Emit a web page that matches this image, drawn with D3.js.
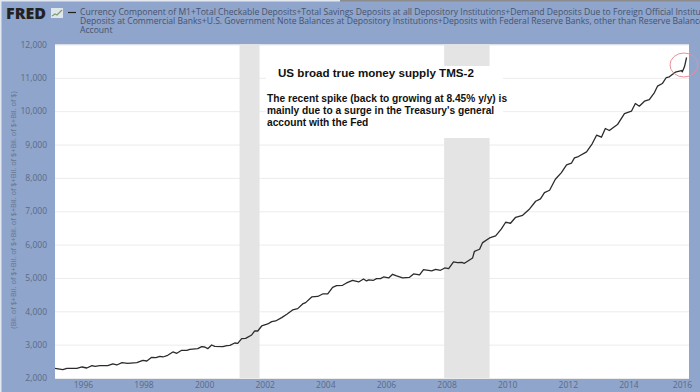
<!DOCTYPE html>
<html lang="en">
<head>
    <meta charset="UTF-8">
    <title>US broad true money supply TMS-2</title>
    <script src="https://d3js.org/d3.v7.min.js"></script>
    <style>
        html, body { margin: 0; padding: 0; background: #8fa5cb; overflow: hidden; }
        svg { display: block; }
        .tick text { font-family: "Open Sans", sans-serif; font-size: 8.5px; fill: #5b6a86; }
        .legend { font-family: "Open Sans", sans-serif; font-size: 8.6px; fill: #47536e; }
        .note { font-family: "Liberation Sans", Arial, sans-serif; font-weight: bold; fill: #111; }
    </style>
</head>
<body>
    <div id="chart"></div>
    <script>
        var w = 700;
        var h = 392;
        var margin = { top: 44.5, right: 11, bottom: 14, left: 55 };

        var years = [1995.08,1995.34,1995.47,1995.80,1995.97,1996.13,1996.30,1996.40,1996.56,1996.82,1996.99,
            1997.12,1997.29,1997.48,1997.78,1997.98,1998.11,1998.27,1998.41,1998.54,1998.64,1998.80,1998.97,
            1999.10,1999.26,1999.43,1999.53,1999.79,1999.92,2000.02,2000.12,2000.25,2000.35,2000.62,2000.75,2000.85,
            2001.01,2001.11,2001.24,2001.37,2001.57,2001.67,2001.77,2001.90,2002.10,2002.23,2002.36,2002.56,2002.73,2002.92,
            2003.09,2003.25,2003.35,2003.55,2003.75,2003.91,2004.08,2004.24,2004.37,2004.57,2004.70,2004.90,
            2005.10,2005.26,2005.36,2005.43,2005.59,2005.69,2005.82,2005.92,2006.09,2006.22,2006.35,2006.55,2006.78,2006.91,
            2007.11,2007.24,2007.51,2007.64,2007.80,2007.94,2008.07,2008.23,2008.36,2008.50,2008.59,2008.86,2008.92,
            2009.09,2009.19,2009.42,2009.62,2009.81,2009.95,2010.11,2010.28,2010.51,2010.74,2010.94,
            2011.10,2011.23,2011.40,2011.59,2011.79,2011.96,2012.12,2012.22,2012.35,2012.62,2012.81,2012.95,
            2013.11,2013.24,2013.37,2013.64,2013.87,2014.10,2014.23,2014.36,2014.53,2014.69,2014.86,2014.96,
            2015.12,2015.25,2015.35,2015.55,2015.75,2015.78,2015.85,2015.92];

        var supply = [2290,2250,2290,2290,2330,2300,2370,2350,2370,2370,2420,
            2390,2460,2440,2460,2530,2510,2620,2610,2650,2630,2680,2780,
            2740,2830,2830,2860,2880,2940,2930,2880,2990,2950,2940,2970,2980,
            3050,3040,3180,3190,3290,3410,3410,3560,3620,3690,3710,3810,3910,4040,
            4080,4220,4260,4430,4445,4520,4520,4720,4770,4780,4850,4930,
            4880,4970,4910,4940,4930,4980,4980,5030,5000,5110,5060,5000,5020,5120,
            5090,5250,5210,5260,5230,5300,5280,5480,5460,5470,5440,5600,5800,
            5860,6060,6200,6260,6470,6670,6640,6820,6880,7070,7300,
            7370,7560,7630,7960,8160,8390,8440,8600,8640,8780,9030,9280,
            9220,9480,9420,9600,9930,10000,10230,10150,10300,10350,10560,10750,
            10830,11010,11030,11170,11220,11180,11330,11610];

        var recessions = [[2001.17, 2001.83], [2007.92, 2009.42]];
        var yTicks = [2000,3000,4000,5000,6000,7000,8000,9000,10000,11000,12000];
        var xTicks = [1996,1998,2000,2002,2004,2006,2008,2010,2012,2014,2016];

        var legendLines = [
            "Currency Component of M1+Total Checkable Deposits+Total Savings Deposits at all Depository Institutions+Demand Deposits Due to Foreign Official Institutions+U.S. Government Demand",
            "Deposits at Commercial Banks+U.S. Government Note Balances at Depository Institutions+Deposits with Federal Reserve Banks, other than Reserve Balances: U.S. Treasury, General",
            "Account"
        ];
        var yLabel = "(Bil. of $+Bil. of $+Bil. of $+Bil. of $+Bil. of $+Bil. of $+Bil. of $+Bil. of $)";
        var noteTitle = "US broad true money supply TMS-2";
        var noteLines = [
            "The recent spike (back to growing at 8.45% y/y) is",
            "mainly due to a surge in the Treasury's general",
            "account with the Fed"
        ];

        var iw = w - margin.left - margin.right;
        var ih = h - margin.top - margin.bottom;

        var svg = d3.select("#chart").append("svg")
            .attr("width", w)
            .attr("height", h);

        // thin light edge of the screenshot
        svg.append("rect").attr("x", 0).attr("y", 0).attr("width", 1.5).attr("height", h).attr("fill", "#e4e8f1");
        svg.append("rect").attr("x", 0).attr("y", 0).attr("width", 340).attr("height", 1.5).attr("fill", "#e4e8f1");
        svg.append("rect").attr("x", 340).attr("y", 0).attr("width", 360).attr("height", 1.5).attr("fill", "#8d8d8d");

        var g = svg.append("g")
            .attr("transform", `translate(${margin.left},${margin.top})`);

        var xScale = d3.scaleLinear().domain([1995.08, 2016]).range([0, iw]);
        var yScale = d3.scaleLinear().domain([2000, 12000]).range([ih, 0]);

        g.append("rect")
            .attr("width", iw)
            .attr("height", ih)
            .attr("fill", "#fff");

        // grid and labels come from the axes
        var yAxis = g.append("g")
            .call(d3.axisLeft(yScale).tickValues(yTicks).tickFormat(d3.format(",")).tickSize(-iw).tickPadding(8));
        yAxis.select(".domain").remove();
        yAxis.selectAll("line").attr("stroke", "#ececec").attr("stroke-width", 1);

        g.selectAll(".recession")
            .data(recessions)
            .enter()
            .append("rect")
            .attr("class", "recession")
            .attr("x", d => xScale(d[0]))
            .attr("y", 0)
            .attr("width", d => xScale(d[1]) - xScale(d[0]))
            .attr("height", ih)
            .attr("fill", "#e4e4e4");

        var xAxis = g.append("g")
            .attr("transform", `translate(0,${ih})`)
            .call(d3.axisBottom(xScale).tickValues(xTicks).tickFormat(d3.format("d")).tickSize(0).tickPadding(4));
        xAxis.select(".domain").remove();
        xAxis.selectAll("text").filter(d => d === 2016).attr("dx", -7);

        var line = d3.line()
            .x(d => xScale(d[0]))
            .y(d => yScale(d[1]));

        g.append("path")
            .datum(d3.zip(years, supply))
            .attr("fill", "none")
            .attr("stroke", "#2b2b2b")
            .attr("stroke-width", 1.3)
            .attr("stroke-linejoin", "round")
            .attr("d", line);

        // pasted annotation box, it hides the grid and the recession band
        svg.append("rect")
            .attr("x", 266).attr("y", 66)
            .attr("width", 237).attr("height", 72)
            .attr("fill", "#fff");

        svg.append("text")
            .attr("class", "note")
            .attr("x", 278).attr("y", 77)
            .style("font-size", "11.6px")
            .text(noteTitle);

        svg.selectAll(".noteLine")
            .data(noteLines)
            .enter()
            .append("text")
            .attr("class", "note")
            .attr("x", 267)
            .attr("y", (d, i) => 102 + i * 12)
            .style("font-size", "10.2px")
            .text(d => d);

        // red circle round the last spike
        svg.append("ellipse")
            .attr("cx", 684).attr("cy", 65)
            .attr("rx", 14).attr("ry", 12)
            .attr("fill", "none")
            .attr("stroke", "#e98f9c")
            .attr("stroke-width", 1);

        // header
        svg.append("text")
            .attr("x", 6).attr("y", 18.5)
            .attr("font-family", "'Open Sans', sans-serif")
            .attr("font-weight", "800")
            .attr("font-size", "16px")
            .attr("fill", "#222")
            .text("FRED");

        var icon = svg.append("g").attr("transform", "translate(51,8)");
        icon.append("rect").attr("width", 12).attr("height", 10).attr("fill", "#dfe6ee");
        icon.append("path")
            .attr("d", "M1,8 L4,6 L6,7 L11,2")
            .attr("fill", "none").attr("stroke", "#7f9f6a").attr("stroke-width", 1.2);

        svg.append("line")
            .attr("x1", 68).attr("x2", 76)
            .attr("y1", 12.5).attr("y2", 12.5)
            .attr("stroke", "#222").attr("stroke-width", 1.2);

        svg.selectAll(".legend")
            .data(legendLines)
            .enter()
            .append("text")
            .attr("class", "legend")
            .attr("x", 80)
            .attr("y", (d, i) => 15 + i * 9)
            .text(d => d);

        svg.append("text")
            .attr("transform", "translate(16,210) rotate(-90)")
            .attr("text-anchor", "middle")
            .attr("font-family", "'Open Sans', sans-serif")
            .attr("font-size", "7.4px")
            .attr("fill", "#66758f")
            .text(yLabel);
    </script>
</body>
</html>
